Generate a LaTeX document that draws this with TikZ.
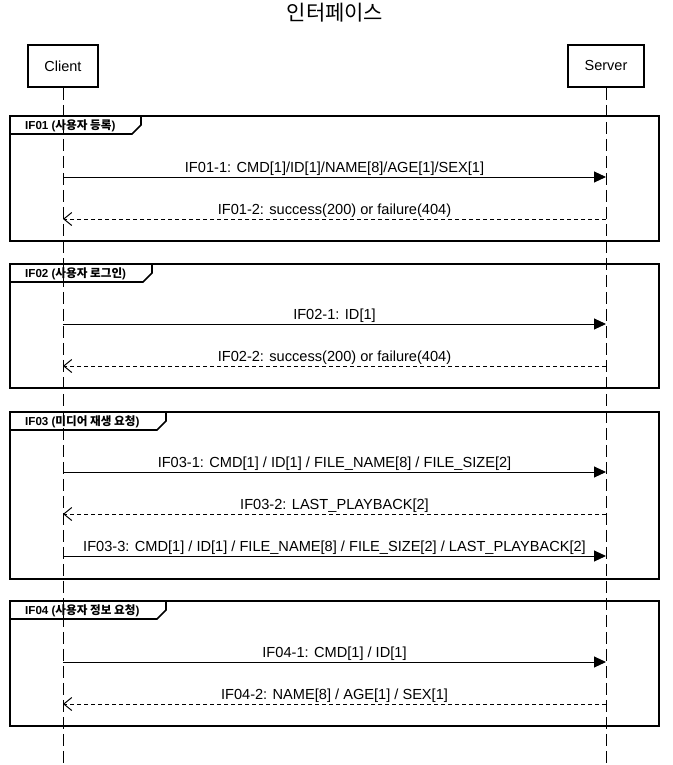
\documentclass[tikz,border=0pt]{standalone}
\usepackage{fontspec}
\setmainfont{Liberation Sans}
\newfontfamily\kr{Noto Sans CJK KR}
\usetikzlibrary{arrows.meta}

% interaction frame with a pentagon name tab
\newcommand\ifframe[5]{%
  \draw[framepen] (10,#1) rectangle (659,#2);
  \draw[framepen] (10,#1) -- (#3,#1) -- (#3,#1+9) -- (#3-9,#1+18) -- (10,#1+18);
  \node[tablabel] (#4) at (25,#1+9.5) {#5};
}

\begin{document}
\begin{tikzpicture}[x=1pt,y=-1pt,
  actor/.style={draw, line width=1.7pt, minimum height=42pt, inner sep=0pt,
    font=\fontsize{14.5}{16}\selectfont},
  lifeline/.style={line width=1pt, dash pattern=on 12pt off 5pt},
  framepen/.style={line width=1.7pt},
  tablabel/.style={anchor=west, inner sep=0pt, font=\fontsize{11.6}{13}\selectfont\bfseries},
  call/.style={line width=1pt, -{Triangle[length=12pt,width=11pt]}},
  reply/.style={line width=1pt, dash pattern=on 4pt off 3pt,
    -{Straight Barb[length=8pt,width=13pt,line width=1pt]}},
  msg/.style={midway, above, inner sep=1pt, font=\fontsize{14.6}{16}\selectfont},
]
\useasboundingbox (0,0) rectangle (672,765);

% title
\node[font=\kr\fontsize{21}{24}\selectfont] (title) at (335,13) {인터페이스};

% participants and their lifelines
\node[actor, minimum width=70pt] (client) at (63,66) {Client};
\node[actor, minimum width=76pt] (server) at (606,66) {Server};
\coordinate (clientend) at (63,765);
\coordinate (serverend) at (606,765);
\draw[lifeline] (client.south) -- (clientend);
\draw[lifeline] (server.south) -- (serverend);

% IF01
\ifframe{116}{241}{141}{f1}{IF01 ({\kr 사용자 등록})}
\coordinate (c11) at (63,177);  \coordinate (s11) at (606,177);
\coordinate (c12) at (63,219);  \coordinate (s12) at (606,219);
\draw[call]  (c11) -- node[msg] {IF01-1: CMD[1]/ID[1]/NAME[8]/AGE[1]/SEX[1]} (s11);
\draw[reply] (s12) -- node[msg] {IF01-2: success(200) or failure(404)} (c12);

% IF02
\ifframe{264}{388}{152}{f2}{IF02 ({\kr 사용자 로그인})}
\coordinate (c21) at (63,324);  \coordinate (s21) at (606,324);
\coordinate (c22) at (63,366);  \coordinate (s22) at (606,366);
\draw[call]  (c21) -- node[msg] {IF02-1: ID[1]} (s21);
\draw[reply] (s22) -- node[msg] {IF02-2: success(200) or failure(404)} (c22);

% IF03
\ifframe{412}{579}{166}{f3}{IF03 ({\kr 미디어 재생 요청})}
\coordinate (c31) at (63,472);  \coordinate (s31) at (606,472);
\coordinate (c32) at (63,514);  \coordinate (s32) at (606,514);
\coordinate (c33) at (63,556);  \coordinate (s33) at (606,556);
\draw[call]  (c31) -- node[msg] {IF03-1: CMD[1] / ID[1] / FILE\_NAME[8] / FILE\_SIZE[2]} (s31);
\draw[reply] (s32) -- node[msg] {IF03-2: LAST\_PLAYBACK[2]} (c32);
\draw[call]  (c33) -- node[msg] {IF03-3: CMD[1] / ID[1] / FILE\_NAME[8] / FILE\_SIZE[2] / LAST\_PLAYBACK[2]} (s33);

% IF04
\ifframe{601}{726}{166}{f4}{IF04 ({\kr 사용자 정보 요청})}
\coordinate (c41) at (63,662);  \coordinate (s41) at (606,662);
\coordinate (c42) at (63,704);  \coordinate (s42) at (606,704);
\draw[call]  (c41) -- node[msg] {IF04-1: CMD[1] / ID[1]} (s41);
\draw[reply] (s42) -- node[msg] {IF04-2: NAME[8] / AGE[1] / SEX[1]} (c42);
\end{tikzpicture}
\end{document}
